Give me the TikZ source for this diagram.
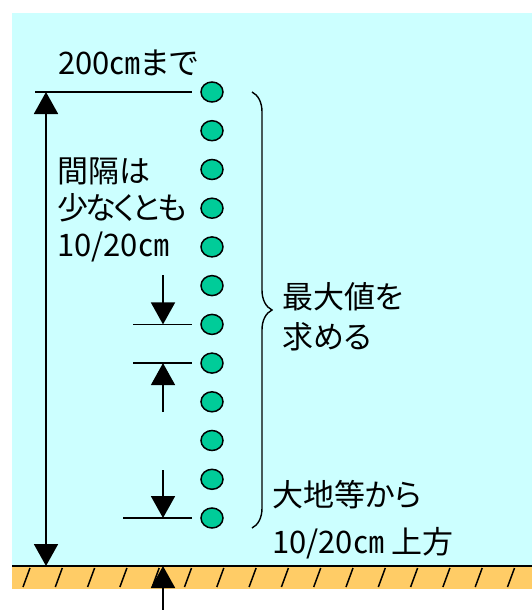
\documentclass[tikz,border=0pt]{standalone}
\usepackage{fontspec}
\usetikzlibrary{arrows.meta,shapes.geometric,decorations.pathreplacing}
\newfontfamily\jpfont[RawFeature=+palt]{Noto Sans CJK JP}
\definecolor{skyblue}{HTML}{CCFFFF}
\definecolor{dotgreen}{HTML}{00CC99}
\definecolor{earth}{HTML}{FFCC66}

\begin{document}
\begin{tikzpicture}[x=1pt, y=-1pt,
    dot/.style={ellipse, draw, line width=1.5pt, fill=dotgreen, minimum width=22pt, minimum height=20pt, inner sep=0pt},
    lbl/.style={anchor=west, inner sep=0pt, font=\jpfont\fontsize{31}{37}\selectfont},
    dimline/.style={line width=1.6pt, shorten >=8pt},
    tip/.style={-{Triangle[length=22pt,width=24pt]}, line width=1.8pt},
    hatch/.style={line width=1.5pt}]
                    \useasboundingbox (0,0) rectangle (532,610);
                    % Air and ground
                    \fill[skyblue] (12,13) rectangle (532,566);
                    \fill[earth] (12,566) rectangle (532,589);
                    \coordinate (g1) at (12,566);
                    \coordinate (g2) at (532,566);
                    \draw[line width=2pt] (g1) -- (g2);
                    \foreach \x in {23,55.3,...,510} {
                        \draw[hatch] (\x,587) -- ++(7,-19);
                    }
                    
                    % Measuring points
                    \node[dot] (c1) at (212,92) {};
                    \node[dot] (c2) at (212,130.7) {};
                    \node[dot] (c3) at (212,169.5) {};
                    \node[dot] (c4) at (212,208.2) {};
                    \node[dot] (c5) at (212,246.9) {};
                    \node[dot] (c6) at (212,285.6) {};
                    \node[dot] (c7) at (212,324.4) {};
                    \node[dot] (c8) at (212,363.1) {};
                    \node[dot] (c9) at (212,401.8) {};
                    \node[dot] (c10) at (212,440.5) {};
                    \node[dot] (c11) at (212,479.3) {};
                    \node[dot] (c12) at (212,518) {};
                    
                    % Dimension lines
                    \coordinate (d1) at (35,92);
                    \coordinate (d7) at (133,324.4);
                    \coordinate (d8) at (133,363.1);
                    \coordinate (d12) at (123,518);
                    \draw[dimline] (d1) -- (c1.west);
                    \draw[dimline] (d7) -- (c7.west);
                    \draw[dimline] (d8) -- (c8.west);
                    \draw[dimline] (d12) -- (c12.west);
                    
                    % Height up to 200 cm
                    \coordinate (h0) at (46,566);
                    \draw[{Triangle[length=22pt,width=24pt]}-{Triangle[length=22pt,width=24pt]}, line width=1.8pt] (h0 |- c1) -- (h0);
                    
                    % Spacing and lowest point arrows
                    \coordinate (s1) at (163,275);
                    \coordinate (s2) at (163,412);
                    \coordinate (s3) at (163,470);
                    \coordinate (s4) at (163,610);
                    \draw[tip] (s1) -- (s1 |- c7);
                    \draw[tip] (s2) -- (s2 |- c8);
                    \draw[tip] (s3) -- (s3 |- c12);
                    \draw[tip] (s4) -- (s4 |- g1);
                    
                    % Brace over all points
                    \draw[line width=1.4pt, decorate, decoration={brace, amplitude=20pt}] (252,92) -- (252,528);
                    
                    % Labels
                    \node[lbl] (top) at (58,63) {200㎝まで};
                    \node[lbl] (gap1) at (57,171) {間隔は};
                    \node[lbl] (gap2) at (57,208) {\addfontfeature{LetterSpace=-8}少なくとも};
                    \node[lbl] (gap3) at (57,247) {10/20㎝};
                    \node[lbl] (max1) at (282,297) {最大値を};
                    \node[lbl] (max2) at (282,337) {求める};
                    \node[lbl] (low1) at (272,495) {大地等から};
                    \node[lbl] (low2) at (272,543) {10/20㎝ 上方};
                \end{tikzpicture}
\end{document}
